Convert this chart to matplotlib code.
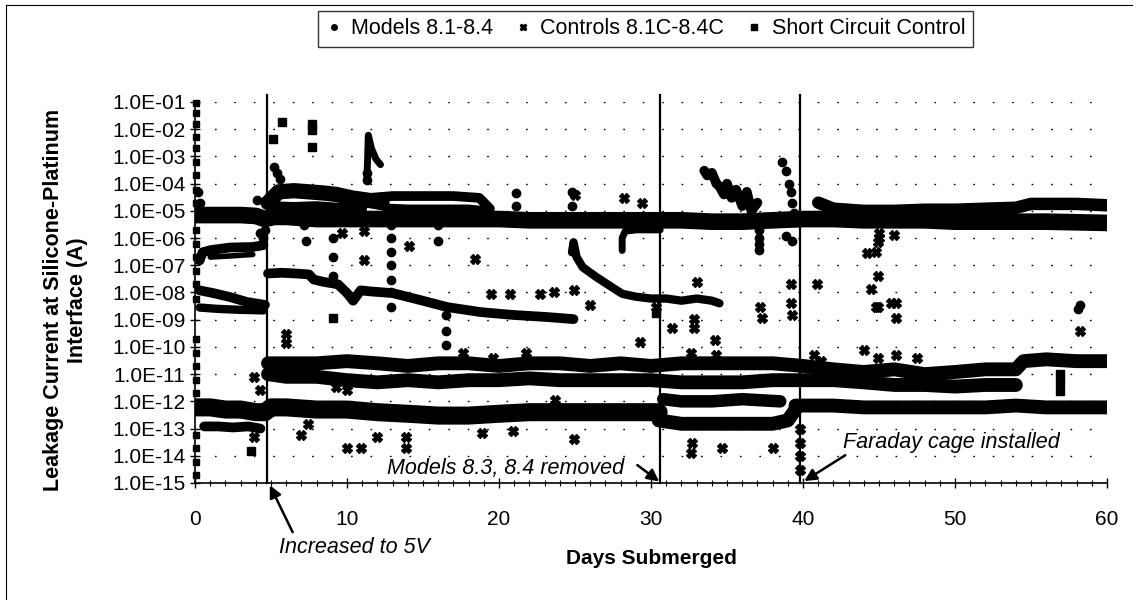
import numpy as np
import matplotlib.pyplot as plt
from matplotlib.lines import Line2D
from matplotlib.ticker import FixedLocator, MultipleLocator, FuncFormatter

plt.rcParams['font.family'] = ['Liberation Sans', 'DejaVu Sans']

# ---- Models 8.1-8.4 (dense bands) ----
m_base_day = [0.1, 1, 2, 3, 4, 4.6, 5.2, 6, 8, 10, 12, 14, 16, 18, 20, 22, 24, 26, 28, 30,
              32, 34, 36, 38, 40, 42, 44, 46, 48, 50, 52, 54, 56, 58, 60]
m_base_a = [7e-6, 7e-6, 7e-6, 7e-6, 6.5e-6, 5e-6, 6e-6, 6e-6, 5e-6, 5e-6, 5e-6, 5e-6, 5e-6,
            5e-6, 5e-6, 4.5e-6, 4.5e-6, 4.5e-6, 4.5e-6, 4.5e-6, 4.5e-6, 4e-6, 4e-6, 4.5e-6,
            5e-6, 5e-6, 4.5e-6, 4.5e-6, 4.5e-6, 4e-6, 4e-6, 4e-6, 4e-6, 3.8e-6, 3.6e-6]
m_split_day = [41, 42, 44, 46, 48, 50, 52, 54, 55, 56, 58, 60]
m_split_a = [2e-5, 1.2e-5, 1e-5, 1e-5, 1.1e-5, 1.1e-5, 1.2e-5, 1.3e-5, 1.8e-5, 1.8e-5, 1.8e-5, 1.6e-5]
m_elev_day = [4.8, 5.5, 6.5, 7.5, 8.5, 9.3, 10.3, 11.3, 12.3]
m_elev_a = [2e-5, 5e-5, 5.5e-5, 5e-5, 4.5e-5, 4e-5, 3e-5, 2.5e-5, 2e-5]
m_elev2_day = [5, 6.5, 8, 9.5, 11]
m_elev2_a = [1.5e-5, 1.4e-5, 1.5e-5, 1.3e-5, 1.2e-5]
m_loop_up_day = [11.5, 13, 15, 17, 18.7, 19.4]
m_loop_up_a = [3e-5, 3.5e-5, 3.5e-5, 3.5e-5, 3e-5, 1.2e-5]
m_loop_lo_day = [12.5, 14, 16, 18, 19.4]
m_loop_lo_a = [1.3e-5, 1.2e-5, 1.2e-5, 1.2e-5, 1e-5]
m_spike_day = [11.3, 11.35, 11.4, 11.6, 11.9, 12.2]
m_spike_a = [1.5e-4, 7e-4, 6e-3, 2e-3, 8e-4, 5e-4]
m_l1_day = [0.3, 0.5, 1.0, 2.3, 3.8, 4.5]
m_l1_a = [1.5e-7, 3e-7, 3.6e-7, 4.5e-7, 4.7e-7, 5.5e-7]
m_l1b_day = [1.0, 2.3, 3.8]
m_l1b_a = [2e-7, 2.2e-7, 2.5e-7]
m_l2_day = [0.3, 1.2, 2.3, 3.4, 4.6]
m_l2_a = [1.2e-8, 9.5e-9, 6.8e-9, 4.5e-9, 3.5e-9]
m_l3_day = [0.3, 1.5, 3, 4.5]
m_l3_a = [2.8e-9, 2.5e-9, 2.3e-9, 2.2e-9]
m_mid_day = [4.8, 5.7, 6.6, 7.5, 7.8, 8.4, 9.4, 10.0, 10.4, 10.9, 11.5, 13.0, 14.8, 16.6,
             18.8, 20.9, 23.2, 24.9]
m_mid_a = [5e-8, 5.3e-8, 5e-8, 4.6e-8, 3e-8, 2.5e-8, 2e-8, 9.5e-9, 5e-9, 1.2e-8, 1.1e-8,
           9.5e-9, 5.3e-9, 2.9e-9, 1.9e-9, 1.5e-9, 1.25e-9, 1.05e-9]
m_25_day = [24.8, 24.9, 25.1, 25.5, 26.4, 27.4, 28.1, 29, 30, 31, 32, 33, 34, 34.5]
m_25_a = [3e-7, 7e-7, 2e-7, 8.5e-8, 3.7e-8, 1.6e-8, 9e-9, 7e-9, 6e-9, 6e-9, 5e-9, 6e-9,
          5e-9, 4e-9]
m_hook_day = [28.1, 28.1, 28.3, 29, 30, 30.6]
m_hook_a = [3.5e-7, 1e-6, 1.8e-6, 2e-6, 2e-6, 2e-6]
m_3335_day = [33.5, 33.7, 34.0, 34.3, 34.5, 34.8, 35.0, 35.3, 35.6, 36.0, 36.3, 36.6, 37.0]
m_3335_a = [3e-4, 2e-4, 2.5e-4, 1e-4, 8e-5, 4e-5, 1e-4, 3e-5, 6e-5, 1.5e-5, 5e-5, 1e-5, 2e-5]
# scattered model points
m_pts_day = [0.2, 0.3, 0.4, 5.2, 5.4, 5.6, 7.2, 7.2, 7.3, 9.1, 9.1, 9.1, 16.0, 16.0, 21.1,
             21.1, 24.8, 24.8, 37.1, 37.1, 37.1, 37.1, 38.6, 38.9, 39.1, 39.2, 39.3, 39.4,
             38.9, 39.3, 4.1, 4.2, 4.3, 4.5, 4.6, 58.1, 58.2, 12.9, 12.9, 12.9, 12.9, 12.9,
             12.9, 12.9, 16.5, 16.5, 16.5, 11.3, 11.3]
m_pts_a = [5e-5, 2e-5, 1e-5, 4e-4, 2.5e-4, 1.5e-4, 1e-5, 3e-6, 8e-7, 1e-6, 2e-7, 4e-8, 3e-6,
           8e-7, 4.5e-5, 1.5e-5, 5e-5, 1.5e-5, 2e-6, 1e-6, 6e-7, 3.5e-7, 6e-4, 3e-4, 1e-4,
           5e-5, 2e-5, 8e-6, 1.2e-6, 8e-7, 2.5e-5, 6e-6, 1.5e-6, 1e-6, 2e-6, 2.5e-9, 3.5e-9,
           3e-6, 1e-6, 3e-7, 1e-7, 3e-8, 1e-8, 3e-9, 1.5e-9, 4e-10, 1.2e-10, 1.4e-4, 2.5e-4]

# ---- Controls 8.1C-8.4C ----
c_up_day = [4.8, 6, 8, 10, 12, 14, 16, 18, 20, 22, 24, 26, 28, 30, 32, 34, 36, 38, 40, 42,
            44, 46, 48, 50, 52, 54, 54.5, 56, 58, 60]
c_up_a = [2.5e-11, 2.5e-11, 2.5e-11, 3e-11, 2.5e-11, 2e-11, 2.5e-11, 2.5e-11, 2e-11, 2.5e-11,
          2.5e-11, 2e-11, 2.5e-11, 2e-11, 2.5e-11, 2.5e-11, 2.5e-11, 2.5e-11, 2e-11, 1.5e-11,
          1.2e-11, 1.5e-11, 1e-11, 1.2e-11, 1.5e-11, 1.5e-11, 3e-11, 3.5e-11, 3e-11, 3e-11]
c_lo_day = [4.8, 6, 8, 10, 12, 14, 16, 18, 20, 22, 24, 26, 28, 30, 32, 34, 36, 38, 40, 42,
            44, 46, 48, 50, 52, 54]
c_lo_a = [1e-11, 8e-12, 8e-12, 6e-12, 5e-12, 6e-12, 5e-12, 6e-12, 6e-12, 7e-12, 6e-12, 6e-12,
          6e-12, 6e-12, 5e-12, 5e-12, 5e-12, 6e-12, 6e-12, 6e-12, 5e-12, 4e-12, 4e-12,
          3.5e-12, 4e-12, 4e-12]
c_low_day = [0.1, 1, 2, 3, 4, 4.6, 5, 6, 8, 10, 12, 14, 16, 18, 20, 22, 24, 26, 28, 30.5]
c_low_a = [6e-13, 6e-13, 5e-13, 5e-13, 4e-13, 4e-13, 6e-13, 6e-13, 5e-13, 5e-13, 4e-13,
           3.5e-13, 3e-13, 3e-13, 3.5e-13, 4e-13, 4e-13, 4e-13, 4e-13, 4e-13]
c_low2_day = [30.5, 32, 34, 36, 38, 39, 39.5]
c_low2_a = [2e-13, 1.5e-13, 1.5e-13, 1.5e-13, 1.5e-13, 2e-13, 5e-13]
c_low3_day = [39.5, 40, 42, 44, 46, 48, 50, 52, 54, 56, 58, 60]
c_low3_a = [7e-13, 7e-13, 7e-13, 6e-13, 6e-13, 6e-13, 6e-13, 6e-13, 7e-13, 6e-13, 6e-13, 6e-13]
c_early_day = [0.6, 1.5, 2.5, 3.5, 4.3]
c_early_a = [1.2e-13, 1.2e-13, 1.1e-13, 1.2e-13, 1e-13]
c_mid_day = [30.8, 32, 34, 36, 38.5]
c_mid_a = [1.2e-12, 1e-12, 1e-12, 1.2e-12, 1e-12]
c_pts_day = [6.0, 6.0, 3.9, 4.3, 3.9, 7.0, 7.4, 10.0, 10.9, 12.0, 13.9, 13.9, 18.9, 20.9,
             24.9, 26.0, 29.3, 21.8, 19.6, 17.6, 23.7, 10.0, 9.3, 9.7, 11.1, 11.1, 14.1, 18.4,
             19.5, 20.7, 22.7, 23.6, 24.9, 25.0, 28.2, 29.4, 31.4, 32.8, 32.8, 34.2, 37.3,
             39.3, 44.9, 46.1, 46.1, 58.2, 32.6, 34.3, 40.7, 41.2, 44.0, 44.9, 46.1, 47.5,
             32.7, 32.6, 34.7, 38.0, 44.2, 44.8, 44.9, 45.0, 45.0, 46.0, 44.9, 44.5, 45.8,
             44.8, 33.0, 37.2, 39.2, 39.2, 40.9, 39.8, 39.8, 39.8, 39.8, 30.3]
c_pts_a = [3e-10, 1.4e-10, 8e-12, 2.7e-12, 5e-14, 6e-14, 1.5e-13, 2e-14, 2e-14, 5e-14, 5e-14,
           2e-14, 7e-14, 8e-14, 4e-14, 3.5e-9, 1.5e-10, 6e-11, 4e-11, 6e-11, 1.1e-12, 2.7e-12,
           3.5e-12, 1.5e-6, 1.8e-6, 1.5e-7, 5e-7, 1.7e-7, 9e-9, 9e-9, 9e-9, 1e-8, 1.2e-8,
           3.8e-5, 3e-5, 2e-5, 5e-10, 1.1e-9, 5e-10, 1.8e-10, 1.2e-9, 1.5e-9, 2.9e-9, 4e-9,
           1.2e-9, 4e-10, 6e-11, 5e-11, 5e-11, 3e-11, 8e-11, 4e-11, 5e-11, 4e-11, 3e-14,
           1.3e-14, 2e-14, 2e-14, 2.8e-7, 3e-7, 7e-7, 1e-6, 1.5e-6, 1.3e-6, 4e-8, 1.4e-8,
           4e-9, 3e-9, 2.4e-8, 3e-9, 2e-8, 4e-9, 2e-8, 1e-13, 3e-14, 1e-14, 3e-15, 3e-9]

# ---- Short Circuit Control ----
s_day = [5.7, 7.7, 7.7, 7.7, 5.1, 9.1, 3.7, 30.3, 56.9, 56.9, 56.9]
s_a = [1.9e-2, 1.5e-2, 9e-3, 2.2e-3, 4.4e-3, 1.2e-9, 1.5e-14, 1.8e-9, 1e-11, 5e-12, 2.5e-12]

# points sitting along the y axis at day 0
axis_a = [9e-2, 4e-2, 1.5e-2, 5e-3, 2e-3, 6e-4, 2e-4, 6e-5, 2e-5, 2e-6, 6e-7, 2e-7, 6e-8,
          2e-8, 6e-9, 2e-10, 6e-11, 2e-11, 6e-12, 2e-12, 6e-14, 2e-14, 6e-15, 2e-15]

events = [4.75, 30.6, 39.8]
yticks = [10.0 ** e for e in range(-15, 0)]

fig = plt.figure(figsize=(11.38, 6.0), dpi=100)
ax = fig.add_axes([0.1714, 0.195, 0.8014, 0.635])
ax.set_yscale('log')
ax.set_xlim(0, 60)
ax.set_ylim(1e-15, 1e-1)

for v in yticks:
    ax.axhline(v, color='black', lw=1.0, ls=(0, (1.2, 12.8)), zorder=0)

k = dict(color='black', solid_capstyle='round', solid_joinstyle='round', zorder=2)
ax.plot(m_base_day, m_base_a, lw=12, **k)
ax.plot(m_split_day, m_split_a, lw=9, **k)
ax.plot(m_elev_day, m_elev_a, lw=11, **k)
ax.plot(m_elev2_day, m_elev2_a, lw=7, **k)
ax.plot(m_loop_up_day, m_loop_up_a, lw=7, **k)
ax.plot(m_loop_lo_day, m_loop_lo_a, lw=6, **k)
ax.plot(m_spike_day, m_spike_a, lw=5, **k)
ax.plot(m_l1_day, m_l1_a, lw=7, **k)
ax.plot(m_l1b_day, m_l1b_a, lw=4, **k)
ax.plot(m_l2_day, m_l2_a, lw=7, **k)
ax.plot(m_l3_day, m_l3_a, lw=6, **k)
ax.plot(m_mid_day, m_mid_a, lw=7, **k)
ax.plot(m_25_day, m_25_a, lw=6, **k)
ax.plot(m_hook_day, m_hook_a, lw=5, **k)
ax.plot(m_3335_day, m_3335_a, lw=7, **k)
ax.plot(m_pts_day, m_pts_a, 'o', ms=6, color='black', zorder=2)

ax.plot(c_up_day, c_up_a, lw=10, **k)
ax.plot(c_lo_day, c_lo_a, lw=10, **k)
ax.plot(c_low_day, c_low_a, lw=13, **k)
ax.plot(c_low2_day, c_low2_a, lw=10, **k)
ax.plot(c_low3_day, c_low3_a, lw=10, **k)
ax.plot(c_early_day, c_early_a, lw=7, **k)
ax.plot(c_mid_day, c_mid_a, lw=9, **k)
ax.plot(c_pts_day, c_pts_a, 'X', ms=7, color='black', zorder=2)

ax.plot(s_day, s_a, 's', ms=6, color='black', zorder=2)
ax.plot([0.05] * len(axis_a), axis_a, 's', ms=4, color='black', zorder=2, clip_on=False)

for d in events:
    ax.plot([d, d], [1e-15, 1.8e-1], color='black', lw=1.6, zorder=3, clip_on=False)

for s in ['top', 'right']:
    ax.spines[s].set_visible(False)
ax.spines['left'].set_linewidth(1.2)
ax.spines['bottom'].set_linewidth(1.2)

ax.yaxis.set_major_locator(FixedLocator(yticks))
ax.yaxis.set_minor_locator(FixedLocator([]))
ax.yaxis.set_major_formatter(FuncFormatter(lambda v, p: f'{v:.1E}'))
ax.xaxis.set_major_locator(MultipleLocator(10))
ax.xaxis.set_minor_locator(MultipleLocator(1))
ax.tick_params(axis='both', which='major', direction='inout', length=7, width=1, labelsize=15)
ax.tick_params(axis='x', which='minor', direction='inout', length=4, width=0.8)
ax.tick_params(axis='x', pad=16)

ax.set_xlabel('Days Submerged', fontsize=15, fontweight='bold', labelpad=14)
ax.set_ylabel('Leakage Current at Silicone-Platinum\nInterface (A)', fontsize=15.5,
              fontweight='bold')
ax.yaxis.set_label_coords(-0.117, 0.48)

# annotations: text and arrows placed in axes fractions
tk = dict(transform=ax.transAxes, fontsize=15.5, style='italic', va='center')
ax.text(0.175, -0.168, 'Increased to 5V', ha='center', **tk)
ax.text(0.471, 0.039, 'Models 8.3, 8.4 removed', ha='right', **tk)
ax.text(0.7105, 0.105, 'Faraday cage installed', ha='left', **tk)
ak = dict(xycoords='axes fraction', textcoords='axes fraction',
          arrowprops=dict(arrowstyle='-|>', color='black', lw=1.8, mutation_scale=18,
                          shrinkA=0, shrinkB=0))
ax.annotate('', xy=(0.082, -0.006), xytext=(0.107, -0.129), **ak)
ax.annotate('', xy=(0.509, 0.004), xytext=(0.485, 0.047), **ak)
ax.annotate('', xy=(0.668, 0.005), xytext=(0.713, 0.073), **ak)

handles = [Line2D([], [], ls='none', marker='o', ms=4, color='black'),
           Line2D([], [], ls='none', marker='X', ms=5, color='black'),
           Line2D([], [], ls='none', marker='s', ms=4, color='black')]
leg = fig.legend(handles, ['Models 8.1-8.4', 'Controls 8.1C-8.4C', 'Short Circuit Control'],
                 loc='center', bbox_to_anchor=(0.567, 0.952), ncol=3, fontsize=15.5,
                 frameon=True, fancybox=False, edgecolor='black', handlelength=0.8,
                 handletextpad=0.4, columnspacing=1.0, borderpad=0.35)
leg.get_frame().set_linewidth(1.0)

fig.add_artist(Line2D([0.005, 0.005], [0.0, 0.992], color='black', lw=0.8))
fig.add_artist(Line2D([0.005, 0.995], [0.992, 0.992], color='black', lw=0.8))

fig.savefig('out.png', dpi=100)
